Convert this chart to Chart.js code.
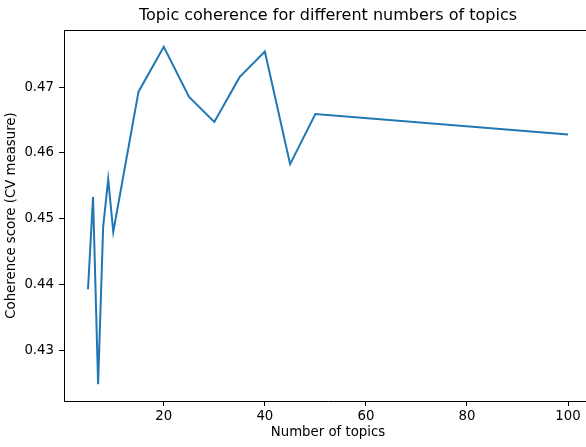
<!DOCTYPE html>
<html>
<head>
<meta charset="utf-8">
<script src="https://cdn.jsdelivr.net/npm/chart.js@4/dist/chart.umd.min.js"></script>
<style>
  html, body { margin: 0; padding: 0; background: #fff; }
  #wrap { width: 586px; height: 447px; overflow: hidden; position: relative; }
  canvas { display: block; }
</style>
</head>
<body>
<div id="wrap"><canvas id="chart" width="598" height="447"></canvas></div>
<script>
// Coherence (C_v) of topic models trained with different numbers of topics
const numTopics = [5, 6, 7, 8, 9, 10, 15, 20, 25, 30, 35, 40, 45, 50, 100];
const coherence = [0.4393, 0.4533, 0.4249, 0.4488, 0.4560, 0.4480, 0.4693, 0.4761,
                   0.4685, 0.4647, 0.4715, 0.4754, 0.4583, 0.4659, 0.4628];
const xTicks = [20, 40, 60, 80, 100];
const yTicks = [0.43, 0.44, 0.45, 0.46, 0.47];

const titleText = 'Topic coherence for different numbers of topics';
const xLabel = 'Number of topics';
const yLabel = 'Coherence score (CV measure)';

const FONT = '"DejaVu Sans", sans-serif';
const LABEL_SIZE = 13.3;

// padded axis limits (5% margin around the data range)
const xPad = (Math.max(...numTopics) - Math.min(...numTopics)) * 0.05;
const yPad = (Math.max(...coherence) - Math.min(...coherence)) * 0.05;

const framePlugin = {
  id: 'frame',
  afterDraw(chart) {
    const { ctx, chartArea: a } = chart;
    ctx.save();
    ctx.strokeStyle = '#000';
    ctx.lineWidth = 1;
    ctx.beginPath();
    ctx.moveTo(a.left, a.top + 0.5);
    ctx.lineTo(a.right, a.top + 0.5);
    ctx.moveTo(a.right - 0.5, a.top);
    ctx.lineTo(a.right - 0.5, a.bottom);
    ctx.stroke();
    ctx.fillStyle = '#000';
    ctx.font = '16px ' + FONT;
    ctx.textAlign = 'center';
    ctx.textBaseline = 'middle';
    ctx.fillText(titleText, (a.left + a.right) / 2, 16);
    ctx.restore();
  }
};

new Chart(document.getElementById('chart'), {
  type: 'line',
  data: {
    datasets: [{
      data: numTopics.map((x, i) => ({ x, y: coherence[i] })),
      borderColor: '#1f77b4',
      borderWidth: 2,
      pointRadius: 0,
      tension: 0,
      fill: false
    }]
  },
  options: {
    responsive: false,
    animation: false,
    devicePixelRatio: 1,
    layout: { padding: { top: 30, left: 0, right: 6, bottom: 0 } },
    plugins: { legend: { display: false }, tooltip: { enabled: false }, title: { display: false } },
    scales: {
      x: {
        type: 'linear',
        min: Math.min(...numTopics) - xPad,
        max: Math.max(...numTopics) + xPad,
        afterBuildTicks: s => { s.ticks = xTicks.map(v => ({ value: v })); },
        afterFit: s => { s.height = 46; },
        ticks: { color: '#000', font: { family: FONT, size: LABEL_SIZE }, padding: 3, maxRotation: 0,
                 callback: v => String(v) },
        grid: { drawOnChartArea: false, drawTicks: true, tickLength: 5, tickColor: '#000', tickWidth: 1 },
        border: { display: true, color: '#000', width: 1 },
        title: { display: true, text: xLabel, color: '#000', font: { family: FONT, size: LABEL_SIZE },
                 padding: { top: 0, bottom: 6 } }
      },
      y: {
        type: 'linear',
        min: Math.min(...coherence) - yPad,
        max: Math.max(...coherence) + yPad,
        afterBuildTicks: s => { s.ticks = yTicks.map(v => ({ value: v })); },
        afterFit: s => { s.width = 64; },
        ticks: { color: '#000', font: { family: FONT, size: LABEL_SIZE }, padding: 5,
                 callback: v => v.toFixed(2) },
        grid: { drawOnChartArea: false, drawTicks: true, tickLength: 5, tickColor: '#000', tickWidth: 1 },
        border: { display: true, color: '#000', width: 1 },
        title: { display: true, text: yLabel, color: '#000', font: { family: FONT, size: LABEL_SIZE },
                 padding: { top: 4, bottom: 0 } }
      }
    }
  },
  plugins: [framePlugin]
});
</script>
</body>
</html>
